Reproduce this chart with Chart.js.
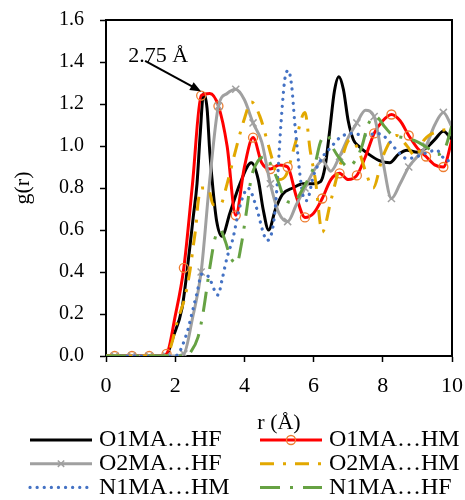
<!DOCTYPE html>
<html>
<head>
<meta charset="utf-8">
<script src="https://cdn.jsdelivr.net/npm/chart.js@4.4.1/dist/chart.umd.min.js"></script>
<style>
  html, body { margin: 0; padding: 0; background: #fff; }
  canvas { display: block; }
</style>
</head>
<body>
<canvas id="rdfChart" width="465" height="500"></canvas>
<script>
const seriesNames = ['O1MA…HF', 'O1MA…HM', 'O2MA…HF', 'O2MA…HM', 'N1MA…HM', 'N1MA…HF'];

// O1MA…HM and O2MA…HF are read every 0.25 Å (marker on every other point)
const gridR = [0, 0.25, 0.5, 0.75, 1, 1.25, 1.5, 1.75, 2, 2.25, 2.5, 2.75, 3, 3.25, 3.5, 3.75,
  4, 4.25, 4.5, 4.75, 5, 5.25, 5.5, 5.75, 6, 6.25, 6.5, 6.75, 7, 7.25, 7.5, 7.75,
  8, 8.25, 8.5, 8.75, 9, 9.25, 9.5, 9.75, 10];
const o1hmG = [0, 0, 0, 0, 0, 0, 0, 0.01, 0.19, 0.42, 0.82, 1.24, 1.25, 1.19, 1.0, 0.67,
  0.9, 1.04, 0.92, 0.89, 0.91, 0.9, 0.76, 0.66, 0.68, 0.75, 0.84, 0.87, 0.84, 0.86, 0.95, 1.06,
  1.12, 1.15, 1.12, 1.05, 0.99, 0.95, 0.91, 0.9, 1.03];
const o2hfG = [0, 0, 0, 0, 0, 0, 0, 0, 0, 0.01, 0.18, 0.4, 0.84, 1.19, 1.25, 1.27,
  1.22, 1.11, 1.02, 0.82, 0.68, 0.64, 0.72, 0.8, 0.88, 0.93, 0.88, 0.95, 1.04, 1.11, 1.17, 1.14,
  0.93, 0.75, 0.82, 0.9, 0.95, 1.0, 1.1, 1.16, 1.09];

// the others are read at uneven steps
const o1hfR = [0, 1.5, 1.76, 1.94, 2.2, 2.34, 2.52, 2.63, 2.72, 2.82, 2.92, 3.0, 3.1, 3.2, 3.35, 3.58,
  3.87, 4.2, 4.4, 4.54, 4.7, 4.9, 5.1, 5.4, 5.7, 6.0, 6.2, 6.33, 6.47, 6.6, 6.73, 6.86,
  7.0, 7.15, 7.3, 7.6, 7.9, 8.2, 8.45, 8.7, 9.0, 9.25, 9.5, 9.75, 10];
const o1hfG = [0, 0, 0.01, 0.09, 0.23, 0.4, 0.66, 0.82, 1.05, 1.25, 1.18, 0.97, 0.78, 0.64, 0.57, 0.68,
  0.82, 0.92, 0.84, 0.7, 0.6, 0.7, 0.77, 0.8, 0.82, 0.82, 0.83, 0.9, 1.08, 1.26, 1.33, 1.27,
  1.12, 1.03, 1.0, 0.96, 0.93, 0.92, 0.96, 0.98, 0.97, 0.99, 1.03, 1.07, 1.03];

const o2hmR = [0, 1.75, 1.9, 2.05, 2.28, 2.43, 2.52, 2.6, 2.66, 2.75, 2.95, 3.1, 3.3, 3.5, 3.7, 4.0,
  4.2, 4.45, 4.65, 4.8, 5.0, 5.2, 5.45, 5.75, 5.9, 6.05, 6.25, 6.5, 6.75, 7.05, 7.3, 7.5,
  7.72, 8.0, 8.4, 8.7, 8.95, 9.2, 9.6, 10];
const o2hmG = [0, 0, 0.06, 0.16, 0.28, 0.41, 0.52, 0.62, 0.73, 0.8, 0.8, 0.72, 0.72, 0.82, 0.95, 1.13,
  1.21, 1.14, 1.03, 0.94, 0.84, 0.86, 1.0, 1.16, 0.98, 0.84, 0.59, 0.74, 0.9, 1.03, 0.98, 0.88,
  0.8, 0.95, 1.05, 1.0, 0.95, 1.03, 1.07, 1.08];

const n1hmR = [0, 2.0, 2.34, 2.48, 2.63, 2.77, 2.95, 3.24, 3.35, 3.5, 3.67, 3.82, 3.96, 4.1, 4.36, 4.54,
  4.65, 4.83, 4.94, 5.03, 5.1, 5.17, 5.27, 5.37, 5.45, 5.52, 5.6, 5.7, 5.8, 6.0, 6.27, 6.48,
  6.76, 7.1, 7.5, 7.83, 8.15, 8.4, 8.7, 9.0, 9.3, 9.55, 9.85, 10];
const n1hmG = [0, 0, 0.11, 0.2, 0.3, 0.39, 0.38, 0.29, 0.36, 0.47, 0.56, 0.68, 0.76, 0.8, 0.7, 0.59,
  0.55, 0.62, 0.8, 1.04, 1.2, 1.32, 1.36, 1.28, 1.12, 1.0, 0.87, 0.76, 0.74, 0.86, 0.95, 0.99,
  1.04, 1.06, 1.05, 1.06, 1.03, 0.98, 0.94, 0.95, 0.97, 0.98, 0.93, 0.93];

const n1hfR = [0, 2.3, 2.45, 2.66, 2.8, 3.0, 3.15, 3.3, 3.44, 3.6, 3.78, 3.9, 4.07, 4.2, 4.4, 4.6,
  4.8, 5.0, 5.15, 5.4, 5.7, 5.9, 6.05, 6.2, 6.4, 6.56, 6.8, 7.0, 7.2, 7.4, 7.57, 7.8,
  8.06, 8.3, 8.6, 9.0, 9.3, 9.57, 9.8, 10];
const n1hfG = [0, 0, 0.02, 0.09, 0.2, 0.42, 0.56, 0.6, 0.55, 0.47, 0.44, 0.52, 0.7, 0.85, 0.93, 0.95,
  0.9, 0.82, 0.75, 0.73, 0.8, 0.86, 0.92, 1.02, 1.05, 0.99, 0.93, 0.9, 0.93, 1.0, 1.1, 1.14,
  1.09, 1.05, 1.04, 1.02, 0.99, 0.96, 0.99, 1.1];

const toPoints = (xs, ys) => xs.map((x, i) => ({ x: x, y: ys[i] }));
const markerRadius = r => gridR.map((_, i) => (i % 2 ? r : 0));
const serif = 'Liberation Serif';

// legend in two columns under the axis title
const gridLegend = {
  id: 'gridLegend',
  afterDraw(chart) {
    const ctx = chart.ctx;
    chart.data.datasets.forEach((ds, i) => {
      const x0 = i % 2 === 0 ? 30 : 260;
      const y = 440 + Math.floor(i / 2) * 23.7;
      ctx.save();
      ctx.strokeStyle = ds.borderColor;
      ctx.lineWidth = ds.borderWidth;
      ctx.lineCap = ds.borderCapStyle || 'butt';
      ctx.setLineDash(ds.borderDash || []);
      ctx.beginPath();
      ctx.moveTo(x0, y);
      ctx.lineTo(x0 + 62, y);
      ctx.stroke();
      ctx.setLineDash([]);
      if (ds.legendMarker) {
        ctx.strokeStyle = ds.pointBorderColor;
        ctx.fillStyle = 'rgba(0,0,0,0)';
        ctx.lineWidth = ds.pointBorderWidth;
        Chart.helpers.drawPoint(ctx, { pointStyle: ds.pointStyle, radius: 4.5, borderWidth: ds.pointBorderWidth, rotation: 0 }, x0 + 31, y);
      }
      ctx.fillStyle = '#000';
      ctx.font = '24px "' + serif + '"';
      ctx.textBaseline = 'middle';
      ctx.fillText(ds.label, x0 + 69, y);
      ctx.restore();
    });
  }
};

// box round the plot + the 2.75 Å arrow
const frameAndNote = {
  id: 'frameAndNote',
  afterDatasetsDraw(chart) {
    const { ctx, chartArea: a, scales: { x, y } } = chart;
    ctx.save();
    ctx.strokeStyle = '#000';
    ctx.lineWidth = 2;
    ctx.beginPath();
    ctx.moveTo(a.left, a.top);
    ctx.lineTo(a.right, a.top);
    ctx.lineTo(a.right, a.bottom);
    ctx.stroke();

    const tipX = x.getPixelForValue(2.75), tipY = y.getPixelForValue(1.26);
    const tailX = x.getPixelForValue(1.13), tailY = y.getPixelForValue(1.405);
    const ang = Math.atan2(tipY - tailY, tipX - tailX);
    const head = 11;
    ctx.lineWidth = 2;
    ctx.beginPath();
    ctx.moveTo(tailX, tailY);
    ctx.lineTo(tipX - Math.cos(ang) * head * 0.8, tipY - Math.sin(ang) * head * 0.8);
    ctx.stroke();
    ctx.fillStyle = '#000';
    ctx.beginPath();
    ctx.moveTo(tipX, tipY);
    ctx.lineTo(tipX - head * Math.cos(ang) + 4.5 * Math.sin(ang), tipY - head * Math.sin(ang) - 4.5 * Math.cos(ang));
    ctx.lineTo(tipX - head * Math.cos(ang) - 4.5 * Math.sin(ang), tipY - head * Math.sin(ang) + 4.5 * Math.cos(ang));
    ctx.closePath();
    ctx.fill();

    ctx.font = '22px "' + serif + '"';
    ctx.textBaseline = 'alphabetic';
    ctx.fillText('2.75 Å', x.getPixelForValue(0.64), y.getPixelForValue(1.40));
    ctx.restore();
  }
};

new Chart(document.getElementById('rdfChart'), {
  type: 'line',
  data: {
    datasets: [
      {
        label: seriesNames[0], data: toPoints(o1hfR, o1hfG), order: 6,
        borderColor: '#000000', borderWidth: 3, pointRadius: 0
      },
      {
        label: seriesNames[1], data: toPoints(gridR, o1hmG), order: 5,
        borderColor: '#FF0000', borderWidth: 3,
        pointStyle: 'circle', pointRadius: markerRadius(4.5), pointBorderColor: '#ED7D31',
        pointBackgroundColor: 'rgba(0,0,0,0)', pointBorderWidth: 1.3, legendMarker: true
      },
      {
        label: seriesNames[2], data: toPoints(gridR, o2hfG), order: 4,
        borderColor: '#A0A0A0', borderWidth: 3,
        pointStyle: 'crossRot', pointRadius: markerRadius(5), pointBorderColor: '#A0A0A0',
        pointBorderWidth: 1.5, legendMarker: true
      },
      {
        label: seriesNames[3], data: toPoints(o2hmR, o2hmG), order: 3,
        borderColor: '#E2A800', borderWidth: 3, borderDash: [14, 9, 3, 9], pointRadius: 0
      },
      {
        label: seriesNames[4], data: toPoints(n1hmR, n1hmG), order: 2,
        borderColor: '#4472C4', borderWidth: 3.2, borderDash: [0.1, 7], borderCapStyle: 'round', pointRadius: 0
      },
      {
        label: seriesNames[5], data: toPoints(n1hfR, n1hfG), order: 1,
        borderColor: '#66A243', borderWidth: 3, borderDash: [20, 10, 3, 10], pointRadius: 0
      }
    ]
  },
  options: {
    responsive: false,
    animation: false,
    layout: { padding: { top: 20, right: 13, bottom: 64, left: 0 } },
    elements: { line: { cubicInterpolationMode: 'monotone' } },
    plugins: { legend: { display: false }, tooltip: { enabled: false } },
    scales: {
      x: {
        type: 'linear', min: 0, max: 10,
        afterFit: s => { s.height = 80; s.paddingLeft = 0; s.paddingRight = 0; },
        ticks: { stepSize: 2, color: '#000', padding: 11, font: { family: serif, size: 22 } },
        grid: { drawOnChartArea: false, drawTicks: true, tickLength: 6, tickColor: '#000', tickWidth: 1.5 },
        border: { color: '#000', width: 2 },
        title: { display: true, text: 'r (Å)', color: '#000', padding: 0, font: { family: serif, size: 22 } }
      },
      y: {
        min: 0, max: 1.6,
        afterFit: s => { s.width = 106; s.paddingTop = 0; s.paddingBottom = 0; },
        ticks: { stepSize: 0.2, color: '#000', padding: 16, font: { family: serif, size: 20 },
          callback: v => v.toFixed(1) },
        grid: { drawOnChartArea: false, drawTicks: true, tickLength: 6, tickColor: '#000', tickWidth: 1.5 },
        border: { color: '#000', width: 2 },
        title: { display: true, text: 'g(r)', color: '#000', padding: { top: 10, bottom: 0 }, font: { family: serif, size: 22 } }
      }
    }
  },
  plugins: [gridLegend, frameAndNote]
});
</script>
</body>
</html>
